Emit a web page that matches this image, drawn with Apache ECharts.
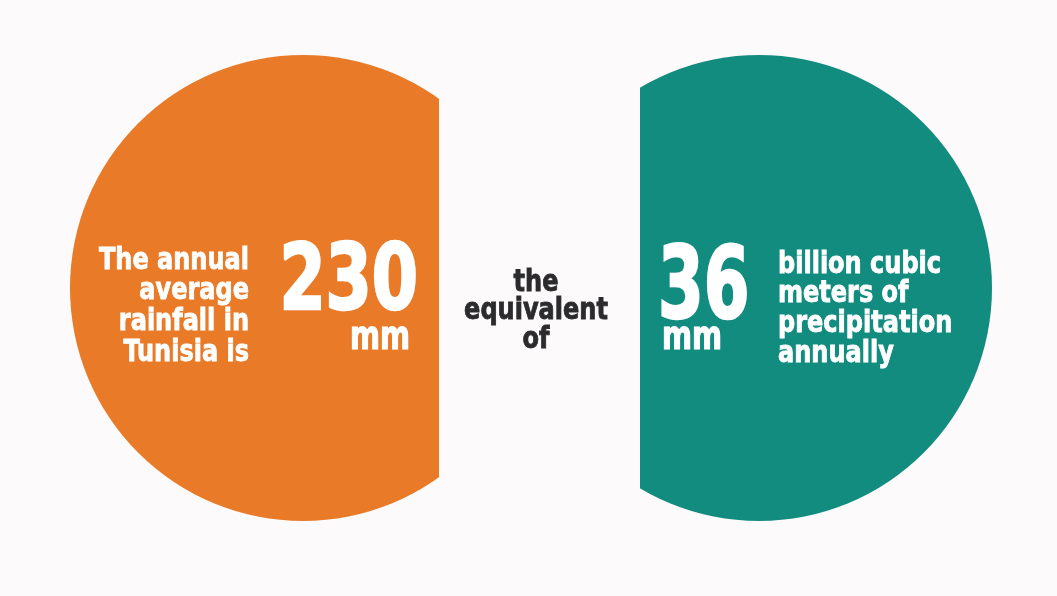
<!DOCTYPE html>
<html>
<head>
<meta charset="utf-8">
<script src="https://cdn.jsdelivr.net/npm/echarts@6/dist/echarts.min.js"></script>
<style>
  html, body { margin: 0; padding: 0; background: #fcfafa; }
  #main { width: 1057px; height: 596px; }
</style>
</head>
<body>
<div id="main"></div>
<script>
  // values shown in the two half-circles
  var rainfallMm = [230];
  var volumeBillion = [36];
  var unitLabel = 'mm';
  var leftLines = ['The annual', 'average', 'rainfall in', 'Tunisia is'];
  var middleLines = ['the', 'equivalent', 'of'];
  var rightLines = ['billion cubic', 'meters of', 'precipitation', 'annually'];

  var bg = '#fcfafa';
  var orange = '#e87a28';
  var teal = '#138c80';
  var font = '"DejaVu Sans Condensed", "DejaVu Sans", sans-serif';

  var myChart = echarts.init(document.getElementById('main'));

  // text squeezed horizontally for the condensed look, stroked to make it heavier
  function txt(s, x, y, size, align, sx, lw, color) {
    var c = color || '#ffffff';
    return {
      type: 'text', z: 20, x: x, y: y, scaleX: sx,
      style: {
        text: s, x: 0, y: 0,
        font: 'bold ' + size + 'px ' + font,
        fill: c, stroke: c, lineWidth: lw,
        textAlign: align,
        textVerticalAlign: 'middle'
      }
    };
  }

  var graphics = [
    // strip between the two circles, cuts them flat
    { type: 'rect', z: 10, shape: { x: 439, y: 0, width: 201, height: 596 }, style: { fill: bg } }
  ];
  leftLines.forEach(function (s, i) { graphics.push(txt(s, 249, 261 + i * 30.7, 30, 'right', 0.89, 0.8)); });
  middleLines.forEach(function (s, i) { graphics.push(txt(s, 536, 283 + i * 28.5, 30, 'center', 0.89, 0.8, '#2b2b2e')); });
  rightLines.forEach(function (s, i) { graphics.push(txt(s, 778, 265 + i * 29.7, 30, 'left', 0.89, 0.8)); });
  graphics.push(txt(String(rainfallMm[0]), 418, 286, 90, 'right', 0.82, 2.5));
  graphics.push(txt(unitLabel, 410, 339, 40, 'right', 0.8, 1.2));
  graphics.push(txt(String(volumeBillion[0]), 658, 292, 100, 'left', 0.73, 2.5));
  graphics.push(txt(unitLabel, 662, 339, 40, 'left', 0.8, 1.2));

  myChart.setOption({
    backgroundColor: bg,
    animation: false,
    series: [
      {
        type: 'pie', center: [303, 288], radius: [0, 233],
        silent: true, label: { show: false }, labelLine: { show: false },
        itemStyle: { color: orange, borderWidth: 0 },
        data: [{ name: 'rainfall', value: rainfallMm[0] }]
      },
      {
        type: 'pie', center: [759, 288], radius: [0, 233],
        silent: true, label: { show: false }, labelLine: { show: false },
        itemStyle: { color: teal, borderWidth: 0 },
        data: [{ name: 'volume', value: volumeBillion[0] }]
      }
    ],
    graphic: graphics
  });
</script>
</body>
</html>
